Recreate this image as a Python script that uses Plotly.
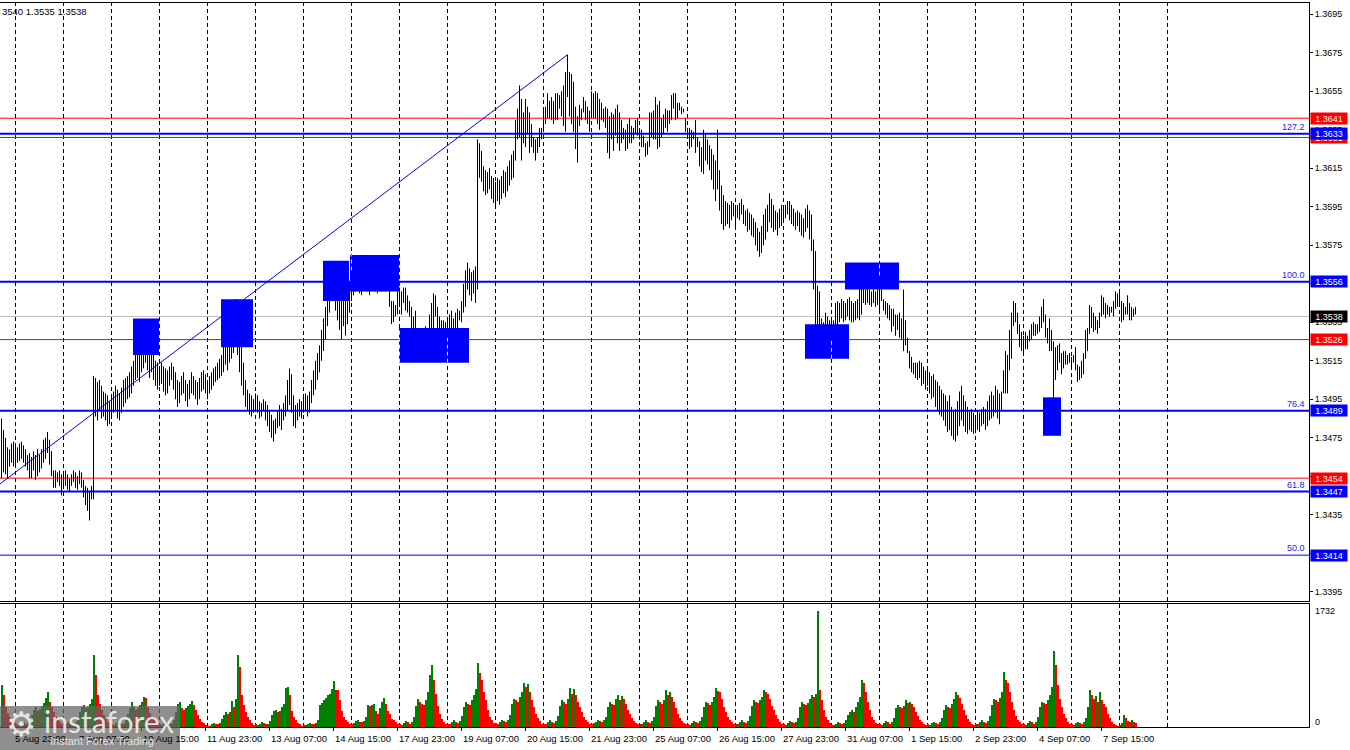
import plotly.graph_objects as go

# ---------------- data ----------------
highs = [
1.3485,1.3479,1.3475,1.3470,1.3469,1.3472,1.3473,1.3471,1.3470,1.3472,
1.3473,1.3471,1.3469,1.3466,1.3467,1.3465,1.3468,1.3466,1.3469,1.3466,
1.3469,1.3474,1.3475,1.3478,1.3474,1.3468,1.3458,1.3458,1.3457,1.3458,
1.3456,1.3457,1.3458,1.3456,1.3454,1.3456,1.3458,1.3457,1.3455,1.3458,
1.3457,1.3453,1.3450,1.3449,1.3447,1.3450,1.3507,1.3506,1.3504,1.3505,
1.3502,1.3499,1.3498,1.3497,1.3494,1.3497,1.3499,1.3502,1.3500,1.3498,
1.3501,1.3505,1.3506,1.3507,1.3509,1.3512,1.3515,1.3518,1.3520,1.3518,
1.3521,1.3523,1.3526,1.3523,1.3519,1.3520,1.3518,1.3515,1.3514,1.3512,
1.3514,1.3512,1.3511,1.3510,1.3512,1.3514,1.3512,1.3509,1.3505,1.3504,
1.3507,1.3509,1.3505,1.3503,1.3505,1.3509,1.3507,1.3505,1.3504,1.3506,
1.3509,1.3510,1.3508,1.3505,1.3507,1.3509,1.3511,1.3512,1.3514,1.3516,
1.3518,1.3523,1.3526,1.3525,1.3528,1.3531,1.3537,1.3547,1.3541,1.3531,
1.3523,1.3514,1.3505,1.3500,1.3498,1.3497,1.3495,1.3498,1.3497,1.3494,
1.3493,1.3495,1.3494,1.3492,1.3489,1.3487,1.3484,1.3485,1.3489,1.3492,
1.3490,1.3493,1.3497,1.3505,1.3511,1.3508,1.3497,1.3492,1.3493,1.3495,
1.3494,1.3496,1.3498,1.3497,1.3499,1.3505,1.3510,1.3515,1.3519,1.3523,
1.3531,1.3537,1.3543,1.3551,1.3558,1.3563,1.3566,1.3559,1.3554,1.3549,
1.3546,1.3550,1.3547,1.3551,1.3556,1.3561,1.3563,1.3566,1.3568,1.3566,
1.3565,1.3568,1.3570,1.3567,1.3565,1.3566,1.3568,1.3566,1.3565,1.3566,
1.3565,1.3563,1.3562,1.3561,1.3555,1.3546,1.3546,1.3544,1.3551,1.3553,
1.3551,1.3553,1.3553,1.3549,1.3546,1.3543,1.3538,1.3541,1.3532,1.3532,
1.3532,1.3532,1.3533,1.3532,1.3539,1.3545,1.3550,1.3549,1.3543,1.3538,
1.3536,1.3536,1.3535,1.3536,1.3539,1.3541,1.3537,1.3540,1.3542,1.3541,
1.3546,1.3555,1.3562,1.3566,1.3563,1.3561,1.3562,1.3564,1.3630,1.3628,
1.3624,1.3616,1.3614,1.3613,1.3615,1.3611,1.3610,1.3608,1.3610,1.3609,
1.3611,1.3614,1.3613,1.3616,1.3619,1.3622,1.3624,1.3640,1.3646,1.3658,
1.3651,1.3644,1.3651,1.3647,1.3644,1.3638,1.3631,1.3630,1.3631,1.3636,
1.3636,1.3645,1.3647,1.3654,1.3650,1.3652,1.3650,1.3654,1.3654,1.3653,
1.3655,1.3658,1.3665,1.3674,1.3665,1.3664,1.3660,1.3647,1.3642,1.3648,
1.3646,1.3652,1.3650,1.3647,1.3645,1.3655,1.3654,1.3655,1.3654,1.3651,
1.3649,1.3646,1.3647,1.3646,1.3642,1.3644,1.3643,1.3646,1.3648,1.3644,
1.3640,1.3636,1.3635,1.3638,1.3641,1.3637,1.3636,1.3640,1.3641,1.3635,
1.3635,1.3632,1.3628,1.3629,1.3644,1.3644,1.3645,1.3652,1.3648,1.3650,
1.3641,1.3643,1.3646,1.3645,1.3645,1.3653,1.3654,1.3654,1.3649,1.3649,
1.3647,1.3646,1.3641,1.3636,1.3636,1.3635,1.3634,1.3640,1.3631,1.3629,
1.3626,1.3635,1.3633,1.3630,1.3627,1.3625,1.3622,1.3619,1.3635,1.3614,
1.3606,1.3601,1.3598,1.3597,1.3596,1.3598,1.3597,1.3594,1.3596,1.3597,
1.3599,1.3596,1.3593,1.3594,1.3592,1.3591,1.3589,1.3587,1.3584,1.3582,
1.3585,1.3591,1.3594,1.3596,1.3602,1.3599,1.3596,1.3593,1.3592,1.3594,
1.3596,1.3594,1.3596,1.3598,1.3598,1.3596,1.3594,1.3592,1.3593,1.3592,
1.3591,1.3589,1.3594,1.3596,1.3593,1.3591,1.3578,1.3572,1.3554,1.3551,
1.3537,1.3535,1.3540,1.3538,1.3536,1.3537,1.3536,1.3545,1.3546,1.3545,
1.3547,1.3546,1.3545,1.3547,1.3548,1.3546,1.3545,1.3546,1.3547,1.3554,
1.3564,1.3555,1.3552,1.3553,1.3552,1.3551,1.3552,1.3551,1.3552,1.3559,
1.3552,1.3547,1.3546,1.3545,1.3544,1.3542,1.3542,1.3539,1.3539,1.3540,
1.3537,1.3552,1.3536,1.3527,1.3520,1.3517,1.3514,1.3514,1.3514,1.3515,
1.3514,1.3512,1.3510,1.3512,1.3509,1.3507,1.3508,1.3505,1.3504,1.3502,
1.3500,1.3498,1.3497,1.3494,1.3497,1.3491,1.3489,1.3490,1.3494,1.3499,
1.3502,1.3497,1.3494,1.3491,1.3489,1.3490,1.3488,1.3486,1.3489,1.3488,
1.3490,1.3491,1.3490,1.3494,1.3497,1.3499,1.3497,1.3502,1.3500,1.3498,
1.3499,1.3510,1.3520,1.3518,1.3531,1.3540,1.3546,1.3545,1.3540,1.3534,
1.3530,1.3528,1.3530,1.3528,1.3531,1.3534,1.3535,1.3534,1.3534,1.3538,
1.3543,1.3547,1.3539,1.3532,1.3537,1.3531,1.3525,1.3522,1.3523,1.3524,
1.3519,1.3520,1.3520,1.3518,1.3519,1.3517,1.3518,1.3522,1.3513,1.3512,
1.3515,1.3519,1.3531,1.3532,1.3544,1.3543,1.3540,1.3538,1.3536,1.3540,
1.3549,1.3548,1.3545,1.3544,1.3543,1.3543,1.3546,1.3551,1.3550,1.3551,
1.3546,1.3545,1.3543,1.3549,1.3545,1.3543,1.3542,1.3543,
]

lows = [
1.3454,1.3457,1.3456,1.3454,1.3460,1.3462,1.3460,1.3461,1.3462,1.3463,
1.3464,1.3462,1.3460,1.3458,1.3454,1.3454,1.3458,1.3453,1.3455,1.3457,
1.3459,1.3462,1.3464,1.3467,1.3461,1.3455,1.3449,1.3449,1.3452,1.3450,
1.3445,1.3449,1.3450,1.3448,1.3447,1.3450,1.3452,1.3449,1.3448,1.3451,
1.3449,1.3444,1.3440,1.3437,1.3432,1.3443,1.3443,1.3486,1.3484,1.3489,
1.3485,1.3486,1.3484,1.3481,1.3482,1.3486,1.3488,1.3489,1.3485,1.3484,
1.3488,1.3491,1.3493,1.3495,1.3496,1.3498,1.3502,1.3505,1.3506,1.3504,
1.3509,1.3511,1.3514,1.3510,1.3506,1.3509,1.3505,1.3502,1.3500,1.3502,
1.3503,1.3499,1.3497,1.3498,1.3502,1.3505,1.3500,1.3495,1.3491,1.3493,
1.3497,1.3498,1.3494,1.3491,1.3495,1.3498,1.3497,1.3495,1.3492,1.3495,
1.3499,1.3500,1.3498,1.3495,1.3498,1.3500,1.3502,1.3504,1.3505,1.3506,
1.3507,1.3509,1.3513,1.3510,1.3514,1.3516,1.3519,1.3523,1.3518,1.3509,
1.3502,1.3497,1.3491,1.3489,1.3487,1.3486,1.3488,1.3490,1.3488,1.3485,
1.3486,1.3489,1.3484,1.3481,1.3478,1.3475,1.3473,1.3477,1.3480,1.3481,
1.3479,1.3484,1.3486,1.3489,1.3492,1.3488,1.3481,1.3480,1.3484,1.3486,
1.3485,1.3488,1.3489,1.3486,1.3488,1.3493,1.3497,1.3500,1.3505,1.3509,
1.3515,1.3520,1.3526,1.3533,1.3540,1.3546,1.3549,1.3541,1.3536,1.3531,
1.3526,1.3533,1.3528,1.3534,1.3540,1.3546,1.3549,1.3551,1.3552,1.3550,
1.3549,1.3554,1.3555,1.3551,1.3549,1.3552,1.3553,1.3551,1.3550,1.3552,
1.3551,1.3555,1.3551,1.3553,1.3543,1.3534,1.3535,1.3538,1.3539,1.3545,
1.3539,1.3545,1.3541,1.3540,1.3538,1.3532,1.3527,1.3521,1.3518,1.3522,
1.3524,1.3525,1.3522,1.3525,1.3528,1.3530,1.3532,1.3538,1.3531,1.3529,
1.3531,1.3526,1.3529,1.3527,1.3531,1.3530,1.3527,1.3522,1.3532,1.3536,
1.3535,1.3540,1.3543,1.3552,1.3549,1.3546,1.3550,1.3545,1.3552,1.3610,
1.3608,1.3603,1.3601,1.3602,1.3604,1.3599,1.3597,1.3594,1.3598,1.3596,
1.3599,1.3602,1.3600,1.3603,1.3606,1.3609,1.3610,1.3619,1.3630,1.3631,
1.3619,1.3628,1.3626,1.3633,1.3623,1.3626,1.3623,1.3619,1.3623,1.3626,
1.3630,1.3635,1.3638,1.3641,1.3641,1.3640,1.3638,1.3640,1.3640,1.3646,
1.3642,1.3637,1.3634,1.3652,1.3642,1.3638,1.3634,1.3625,1.3618,1.3637,
1.3640,1.3644,1.3640,1.3638,1.3634,1.3641,1.3641,1.3641,1.3638,1.3635,
1.3640,1.3639,1.3636,1.3623,1.3620,1.3630,1.3624,1.3632,1.3628,1.3624,
1.3628,1.3630,1.3624,1.3625,1.3628,1.3628,1.3630,1.3633,1.3632,1.3630,
1.3626,1.3626,1.3621,1.3622,1.3626,1.3631,1.3630,1.3630,1.3625,1.3626,
1.3631,1.3633,1.3636,1.3634,1.3638,1.3640,1.3646,1.3640,1.3641,1.3645,
1.3643,1.3644,1.3634,1.3631,1.3625,1.3626,1.3630,1.3623,1.3626,1.3616,
1.3613,1.3612,1.3619,1.3617,1.3614,1.3609,1.3604,1.3598,1.3604,1.3593,
1.3586,1.3583,1.3585,1.3586,1.3584,1.3588,1.3590,1.3585,1.3589,1.3588,
1.3591,1.3586,1.3585,1.3582,1.3583,1.3580,1.3579,1.3575,1.3572,1.3569,
1.3571,1.3575,1.3578,1.3582,1.3587,1.3584,1.3582,1.3583,1.3580,1.3584,
1.3585,1.3587,1.3589,1.3591,1.3588,1.3586,1.3585,1.3583,1.3585,1.3582,
1.3580,1.3579,1.3582,1.3584,1.3578,1.3572,1.3552,1.3522,1.3519,1.3531,
1.3525,1.3523,1.3526,1.3522,1.3523,1.3526,1.3527,1.3530,1.3533,1.3535,
1.3537,1.3535,1.3536,1.3538,1.3536,1.3535,1.3535,1.3536,1.3537,1.3536,
1.3539,1.3545,1.3544,1.3545,1.3544,1.3543,1.3545,1.3543,1.3544,1.3540,
1.3546,1.3541,1.3539,1.3537,1.3536,1.3530,1.3533,1.3528,1.3531,1.3527,
1.3526,1.3520,1.3523,1.3519,1.3511,1.3509,1.3508,1.3506,1.3505,1.3506,
1.3502,1.3503,1.3500,1.3502,1.3498,1.3495,1.3496,1.3491,1.3489,1.3487,
1.3486,1.3484,1.3481,1.3478,1.3479,1.3476,1.3474,1.3473,1.3476,1.3481,
1.3484,1.3481,1.3478,1.3477,1.3479,1.3478,1.3477,1.3478,1.3479,1.3478,
1.3481,1.3482,1.3479,1.3481,1.3484,1.3485,1.3486,1.3488,1.3485,1.3482,
1.3489,1.3498,1.3498,1.3498,1.3510,1.3516,1.3533,1.3535,1.3529,1.3522,
1.3520,1.3519,1.3521,1.3521,1.3525,1.3526,1.3528,1.3528,1.3529,1.3530,
1.3532,1.3535,1.3527,1.3524,1.3520,1.3520,1.3480,1.3505,1.3510,1.3514,
1.3508,1.3511,1.3513,1.3513,1.3514,1.3511,1.3514,1.3510,1.3504,1.3505,
1.3506,1.3508,1.3516,1.3520,1.3529,1.3532,1.3530,1.3531,1.3529,1.3532,
1.3538,1.3539,1.3537,1.3539,1.3538,1.3540,1.3538,1.3542,1.3543,1.3543,
1.3535,1.3536,1.3539,1.3539,1.3536,1.3536,1.3538,1.3539,
]

volumes = [
620,480,300,210,150,90,60,
40,35,60,80,70,50,55,90,180,260,300,240,270,310,360,430,520,380,300,220,150,110,70,45,
50,40,70,90,80,60,70,110,220,300,330,280,300,350,420,1075,776,480,350,260,180,120,80,50,
40,35,55,70,60,45,60,100,200,280,370,300,260,290,330,380,450,430,300,210,150,100,70,40,
45,35,60,80,70,50,60,110,230,340,370,290,250,280,320,350,390,330,250,180,120,80,60,30,
20,15,40,60,50,40,60,120,180,224,200,230,390,300,420,1075,896,478,330,220,150,100,60,30,
40,30,50,70,60,40,50,90,180,239,250,230,240,300,350,582,600,478,240,150,100,60,40,20,
30,25,45,60,50,40,55,100,330,360,400,440,480,500,560,687,552,552,400,240,150,100,80,50,
40,60,90,110,80,70,90,150,328,310,330,350,240,200,280,370,430,350,240,200,120,100,80,40,
40,30,60,90,70,50,80,150,320,420,380,350,330,400,520,780,920,700,500,320,200,120,80,50,
50,40,70,100,80,60,90,160,300,380,350,330,400,480,560,955,800,700,520,400,250,150,100,60,
60,45,80,110,90,70,100,180,350,420,400,380,450,520,657,600,640,520,400,300,200,130,90,50,
50,40,70,100,80,60,90,160,320,400,380,350,420,582,500,560,480,380,300,220,150,100,70,40,
40,60,80,110,90,70,100,150,300,380,350,330,420,478,400,460,420,350,260,200,130,90,60,40,
45,40,70,100,80,60,90,150,320,400,380,350,400,550,480,520,450,380,280,200,130,90,60,40,
40,35,60,90,80,60,90,150,300,380,360,330,380,450,580,540,520,420,300,220,150,100,70,40,
50,40,70,100,80,60,90,160,320,400,380,360,400,450,550,520,500,420,320,250,180,120,80,50,
40,35,60,90,70,60,80,140,300,380,350,330,360,420,480,450,500,1732,550,400,250,150,100,60,
30,25,50,70,60,40,60,100,180,220,250,230,300,380,450,700,650,520,380,250,150,100,60,40,
40,35,60,90,70,50,80,140,280,330,300,280,320,400,360,380,340,300,220,160,110,80,50,30,
40,30,55,80,60,50,70,130,260,330,300,290,350,420,520,480,430,350,260,180,120,80,50,30,
45,40,70,100,80,60,90,160,330,420,400,380,430,520,820,700,650,520,380,260,170,110,70,40,
40,35,60,90,70,50,80,150,300,380,360,340,400,480,600,1135,925,620,420,300,200,130,80,50,
40,30,55,80,60,50,70,140,300,550,480,420,460,380,520,400,350,300,200,130,80,50,30,20,
30,60,180,140,90,70,110,80,60,
]

tick_bars = [6, 38, 70, 102, 134, 166, 198, 230, 262, 294, 326, 358, 390,
             422, 454, 486, 518, 550]
tick_labels = ["5 Aug 23:00", "7 Aug 07:00", "10 Aug 15:00", "11 Aug 23:00",
               "13 Aug 07:00", "14 Aug 15:00", "17 Aug 23:00", "19 Aug 07:00",
               "20 Aug 15:00", "21 Aug 23:00", "25 Aug 07:00", "26 Aug 15:00",
               "27 Aug 23:00", "31 Aug 07:00", "1 Sep 15:00", "2 Sep 23:00",
               "4 Sep 07:00", "7 Sep 15:00"]
price_ticks = [1.3395, 1.3415, 1.3435, 1.3455, 1.3475, 1.3495, 1.3515, 1.3535,
               1.3555, 1.3575, 1.3595, 1.3615, 1.3635, 1.3655, 1.3675, 1.3695]

fib_levels = [1.3633, 1.3556, 1.3489, 1.3447, 1.3414]
fib_labels = ["127.2", "100.0", "76.4", "61.8", "50.0"]
red_levels = [1.3641, 1.3631, 1.3526, 1.3454]
current_price = 1.3538
header_text = "3540 1.3535 1.3538"
vol_max_label = 1732
trend_start_price = 1.3451

# zones: (first bar, last bar, top price, bottom price)
zones = [
    (65.75, 78.75, 1.3537, 1.3518),
    (109.75, 125.75, 1.3547, 1.3522),
    (160.75, 173.75, 1.3567, 1.3546),
    (174.25, 198.75, 1.3570, 1.3551),
    (198.75, 233.75, 1.3532, 1.3514),
    (401.75, 423.75, 1.3534, 1.3516),
    (421.75, 448.75, 1.3566, 1.3552),
    (520.75, 529.75, 1.3496, 1.3476),
]

assert len(highs) == len(lows) == len(volumes), (len(highs), len(lows), len(volumes))

# ---------------- layout constants ----------------
W, H = 1350, 750
FONT = "Liberation Sans"
XD = 1309 / W
PY0, PY1 = 1 - 601 / H, 1 - 3 / H
VY0, VY1 = 1 - 727 / H, 1 - 604 / H
XR = [-0.75, 653.75]
P_RANGE = [1.339017, 1.370087]
V_RANGE = [0, vol_max_label * 123 / 116]
BLUE = "#0000FF"
RED = "#FF0000"


def px(xp):
    return xp / W


def py(yp):
    return 1 - yp / H


N = len(highs)
idx = list(range(N))

fig = go.Figure()

# price bars (high-low)
bx, by = [], []
for i, (h, l) in enumerate(zip(highs, lows)):
    bx += [i, i, None]
    by += [l, h, None]
fig.add_trace(go.Scatter(x=bx, y=by, mode="lines",
                         line=dict(color="black", width=1),
                         hoverinfo="skip", xaxis="x", yaxis="y"))

# volumes (green when higher than the previous bar, red otherwise)
vcolors = []
for i, v in enumerate(volumes):
    vcolors.append("#008000" if i == 0 or v > volumes[i - 1] else RED)
fig.add_trace(go.Bar(x=idx, y=volumes, width=1.0,
                     marker=dict(color=vcolors, line=dict(width=0)),
                     hoverinfo="skip", xaxis="x2", yaxis="y2"))

shapes = []
# vertical dashed grid at each day start
grid_x = [7 + 24 * k for k in range(25)]
for gx in grid_x:
    shapes.append(dict(type="line", xref="x", yref="paper", x0=gx, x1=gx,
                       y0=VY0, y1=PY1, layer="below",
                       line=dict(color="black", width=1, dash="4px,3px")))
# blue zones
for (a, b, top, bot) in zones:
    shapes.append(dict(type="rect", xref="x", yref="y", x0=a, x1=b, y0=bot, y1=top,
                       fillcolor=BLUE, line=dict(width=0), layer="below"))
    for gx in grid_x:
        if a <= gx <= b:
            shapes.append(dict(type="line", xref="x", yref="y", x0=gx, x1=gx,
                               y0=bot, y1=top, layer="below",
                               line=dict(color="#FFFF00", width=1, dash="4px,3px")))
# horizontal levels
for lv in red_levels:
    shapes.append(dict(type="line", xref="paper", yref="y", x0=0, x1=XD, y0=lv, y1=lv,
                       layer="below", line=dict(color=RED, width=1)))
shapes.append(dict(type="line", xref="paper", yref="y", x0=0, x1=XD,
                   y0=current_price, y1=current_price, layer="below",
                   line=dict(color="#C0C0C0", width=1)))
for lv, lab in zip(fib_levels, fib_labels):
    shapes.append(dict(type="line", xref="paper", yref="y", x0=0, x1=XD, y0=lv, y1=lv,
                       layer="below",
                       line=dict(color=BLUE, width=1 if lab == "50.0" else 2)))
# trend line from the left edge to the highest high
top_i = highs.index(max(highs))
shapes.append(dict(type="line", xref="x", yref="y", x0=XR[0], y0=trend_start_price,
                   x1=top_i, y1=highs[top_i], layer="below",
                   line=dict(color=BLUE, width=1)))

annotations = []
# level captions
for lv, lab in zip(fib_levels, fib_labels):
    annotations.append(dict(x=px(1307), xref="paper", y=lv, yref="y", text=lab,
                            xanchor="right", yanchor="bottom", yshift=0, showarrow=False,
                            font=dict(family=FONT, size=9, color="#2020FF")))


def price_box(val, bg):
    return dict(x=px(1310), xref="paper", y=val, yref="y", text=f"{val:.4f}",
                xanchor="left", yanchor="middle", showarrow=False,
                bgcolor=bg, width=36, height=11, borderpad=0, align="center",
                font=dict(family=FONT, size=9, color="white"))


for lv in red_levels:
    annotations.append(price_box(lv, RED))
for lv in fib_levels:
    annotations.append(price_box(lv, BLUE))
annotations.append(price_box(current_price, "black"))

# x labels (left-aligned at their tick, MT4 style)
for tb, tl in zip(tick_bars, tick_labels):
    annotations.append(dict(x=tb, xref="x2", y=py(738), yref="paper", text=tl,
                            xanchor="left", yanchor="middle", xshift=-1, showarrow=False,
                            font=dict(family=FONT, size=9.5, color="black")))
# volume scale labels
annotations.append(dict(x=px(1313), xref="paper", y=py(611), yref="paper",
                        text=str(vol_max_label), xanchor="left", yanchor="middle",
                        showarrow=False, font=dict(family=FONT, size=9, color="black")))
annotations.append(dict(x=px(1313), xref="paper", y=py(722), yref="paper", text="0",
                        xanchor="left", yanchor="middle", showarrow=False,
                        font=dict(family=FONT, size=9, color="black")))
# header
annotations.append(dict(x=0, xref="paper", y=py(11), yref="paper", text=header_text,
                        xanchor="left", yanchor="middle", showarrow=False,
                        font=dict(family=FONT, size=9.5, color="black")))

# watermark logo
shapes.append(dict(type="rect", xref="paper", yref="paper", x0=0, x1=px(180),
                   y0=0, y1=py(706), fillcolor="rgba(100,100,100,0.72)",
                   line=dict(width=0), layer="above"))
annotations.append(dict(x=px(4), xref="paper", y=py(724), yref="paper", text="⚙",
                        xanchor="left", yanchor="middle", showarrow=False,
                        font=dict(family="DejaVu Sans", size=34, color="rgba(235,235,235,0.95)")))
annotations.append(dict(x=px(42), xref="paper", y=py(721), yref="paper", text="instaforex",
                        xanchor="left", yanchor="middle", showarrow=False,
                        font=dict(family="Lato", size=30, color="rgba(235,235,235,0.95)")))
annotations.append(dict(x=px(48), xref="paper", y=py(741), yref="paper",
                        text="Instant Forex Trading", xanchor="left", yanchor="middle",
                        showarrow=False,
                        font=dict(family=FONT, size=11, color="rgba(235,235,235,0.95)")))

axis_common = dict(showgrid=False, zeroline=False, linecolor="black", linewidth=1)

fig.update_layout(
    width=W, height=H,
    margin=dict(l=0, r=0, t=0, b=0),
    paper_bgcolor="white", plot_bgcolor="white",
    showlegend=False, bargap=0, barmode="overlay",
    hovermode=False,
    xaxis=dict(domain=[0, XD], range=XR, anchor="y", showticklabels=False,
               showline=True, mirror=True, ticks="", **axis_common),
    yaxis=dict(domain=[PY0, PY1], range=P_RANGE, anchor="x", side="right",
               tickvals=price_ticks, ticktext=[f"{t:.4f}" for t in price_ticks],
               ticks="outside", ticklen=3, tickcolor="black",
               showline=True, mirror=False,
               tickfont=dict(family=FONT, size=9, color="black"), **axis_common),
    xaxis2=dict(domain=[0, XD], range=XR, anchor="y2", showticklabels=False,
                tickvals=tick_bars, ticks="outside", ticklen=3, tickcolor="black",
                showline=True, mirror=True, **axis_common),
    yaxis2=dict(domain=[VY0, VY1], range=V_RANGE, anchor="x2", side="right",
                showticklabels=False, ticks="", showline=True, **axis_common),
    shapes=shapes,
    annotations=annotations,
)

fig.write_html("out.html",
               config={"displayModeBar": False, "staticPlot": True},
               post_script="document.body.style.margin='0';document.body.style.overflow='hidden';")
